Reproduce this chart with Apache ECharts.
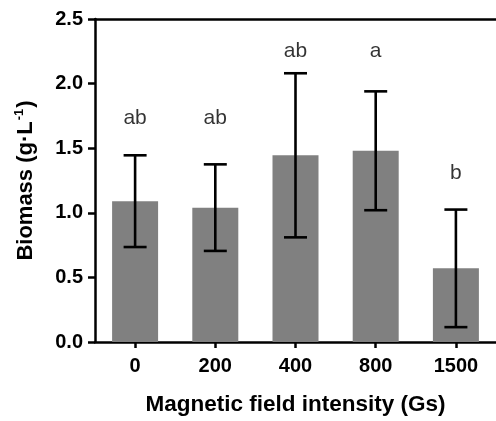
<!DOCTYPE html>
<html>
<head>
<meta charset="utf-8">
<script src="https://cdn.jsdelivr.net/npm/echarts@6/dist/echarts.min.js"></script>
<style>
html,body{margin:0;padding:0;background:#fff;}
#chart{width:496px;height:421px;}
</style>
</head>
<body>
<div id="chart"></div>
<script>
const categories = ['0', '200', '400', '800', '1500'];
const means = [1.09, 1.04, 1.445, 1.48, 0.57];
const errors = [0.355, 0.335, 0.635, 0.46, 0.455];
const letters = ['ab', 'ab', 'ab', 'a', 'b'];
const letterPos = [1.73, 1.73, 2.25, 2.25, 1.31];
const yTicks = [0, 0.5, 1.0, 1.5, 2.0, 2.5];

const chart = echarts.init(document.getElementById('chart'), null, {renderer: 'canvas'});
const FONT = 'Liberation Sans, Arial, sans-serif';

const option = {
  animation: false,
  backgroundColor: '#fff',
  grid: {left: 95, right: -4, top: 19, bottom: 73, containLabel: false},
  xAxis: [{
    type: 'category',
    data: categories,
    boundaryGap: true,
    axisLine: {show: true, lineStyle: {color: '#000', width: 2.5}},
    axisTick: {show: true, alignWithLabel: true, length: 6, lineStyle: {color: '#000', width: 2.5}},
    axisLabel: {color: '#000', fontFamily: FONT, fontWeight: 'bold', fontSize: 20, margin: 14},
    name: 'Magnetic field intensity (Gs)',
    nameLocation: 'middle',
    nameGap: 51,
    nameTextStyle: {color: '#000', fontFamily: FONT, fontWeight: 'bold', fontSize: 22.5}
  }, {
    type: 'category',
    position: 'top',
    data: categories,
    axisLine: {show: true, lineStyle: {color: '#000', width: 2.5}},
    axisTick: {show: false},
    axisLabel: {show: false}
  }],
  yAxis: {
    type: 'value',
    min: yTicks[0],
    max: yTicks[yTicks.length - 1],
    interval: 0.5,
    axisLine: {show: true, lineStyle: {color: '#000', width: 2.5}},
    axisTick: {show: true, length: 7, lineStyle: {color: '#000', width: 2.5}},
    splitLine: {show: false},
    axisLabel: {color: '#000', fontFamily: FONT, fontWeight: 'bold', fontSize: 20, margin: 12,
      formatter: v => v.toFixed(1)},
    name: '{b|Biomass (g·L}{s|-1}{b|)}',
    nameLocation: 'middle',
    nameGap: 56,
    nameTextStyle: {
      color: '#000', fontFamily: FONT, fontWeight: 'bold', fontSize: 22,
      rich: {
        b: {color: '#000', fontFamily: FONT, fontWeight: 'bold', fontSize: 22, lineHeight: 26},
        s: {color: '#000', fontFamily: FONT, fontWeight: 'bold', fontSize: 13, verticalAlign: 'top', lineHeight: 26, padding: [0, 1, 10, 1]}
      }
    }
  },
  series: [{
    type: 'bar',
    data: means,
    barWidth: 46,
    itemStyle: {color: '#808080'},
    z: 2
  }, {
    type: 'custom',
    data: means.map((m, i) => [i, m - errors[i], m + errors[i]]),
    renderItem: function (params, api) {
      const i = api.value(0);
      const lo = api.coord([i, api.value(1)]);
      const hi = api.coord([i, api.value(2)]);
      const half = 11.5;
      const style = {stroke: '#000', lineWidth: 2.6};
      return {
        type: 'group',
        children: [
          {type: 'line', shape: {x1: lo[0], y1: lo[1], x2: hi[0], y2: hi[1]}, style: style},
          {type: 'line', shape: {x1: hi[0] - half, y1: hi[1], x2: hi[0] + half, y2: hi[1]}, style: style},
          {type: 'line', shape: {x1: lo[0] - half, y1: lo[1], x2: lo[0] + half, y2: lo[1]}, style: style}
        ]
      };
    },
    z: 3
  }, {
    type: 'scatter',
    data: letterPos.map((p, i) => [i, p]),
    symbolSize: 0,
    label: {
      show: true,
      position: 'inside',
      formatter: p => letters[p.dataIndex],
      color: '#000',
      fontFamily: FONT,
      fontSize: 21
    },
    z: 4
  }]
};
chart.setOption(option);
</script>
</body>
</html>
